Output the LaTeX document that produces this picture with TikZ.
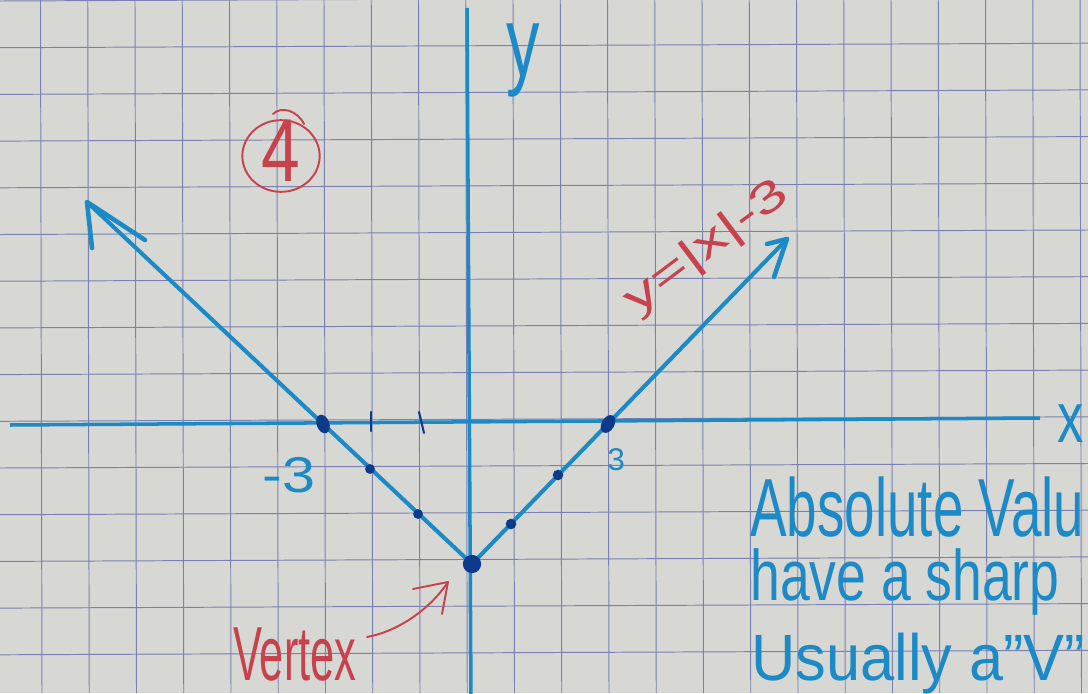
\documentclass[tikz,border=0pt]{standalone}
\usepackage{fontspec}
\setmainfont{Liberation Sans}
\usepackage{graphicx}
\definecolor{paper}{RGB}{215,215,211}
\definecolor{gridc}{RGB}{122,128,178}
\definecolor{ink}{RGB}{28,138,198}
\definecolor{navy}{RGB}{14,58,140}
\definecolor{redink}{RGB}{200,66,78}
\begin{document}
\begin{tikzpicture}[x=0.02cm,y=-0.02cm,
  gridline/.style={draw=gridc,line width=0.55pt},
  axisline/.style={draw=ink,line width=2pt},
  graphline/.style={draw=ink,line width=2.3pt,line cap=round},
  barb/.style={draw=ink,line width=2.6pt,line cap=round,line join=round},
  ticks/.style={draw=navy,line width=1.2pt,line cap=round},
  bluetext/.style={text=ink,inner sep=0pt},
  redtext/.style={text=redink,inner sep=0pt},
  redpen/.style={draw=redink,line width=1.1pt,line cap=round,line join=round},
  dotfill/.style={fill=navy}]
\useasboundingbox (0,0) rectangle (1088,693);
\clip (0,0) rectangle (1088,693);
\fill[paper] (0,0) rectangle (1088,693);
% grid paper
\foreach \k in {0,...,22} {
  \draw[gridline] ({40.5+47.25*\k},0) -- ({42+47.25*\k},693);
}
\foreach \k in {0,...,14} {
  \draw[gridline] (0,{46.7*\k+1}) -- (1088,{46.7*\k-3.5});
}
% axes
\coordinate (xl) at (10,425);
\coordinate (xr) at (1040,418);
\coordinate (yt) at (467,8);
\coordinate (yb) at (471,700);
\draw[axisline] (xl) -- (xr);
\draw[axisline] (yt) -- (yb);
\node[bluetext,anchor=base west] (xlab) at (1057,442) {\resizebox{15pt}{21.5pt}{x}};
\node[bluetext,anchor=base west] (ylab) at (506,76) {\resizebox{19pt}{30pt}{y}};
% ticks
\coordinate (t1a) at (371,412); \coordinate (t1b) at (371,431);
\coordinate (t2a) at (419,412); \coordinate (t2b) at (424,433);
\draw[ticks] (t1a) -- (t1b);
\draw[ticks] (t2a) -- (t2b);
% graph
\coordinate (V) at (472,564);
\coordinate (LT) at (87,202);
\coordinate (RT) at (787,239);
\draw[graphline] (V) -- (LT);
\draw[graphline] (V) -- (RT);
\coordinate (LTa) at (92,248); \coordinate (LTb) at (145,240);
\coordinate (RTa) at (774,277); \coordinate (RTb) at (767,244);
\draw[barb] (LTa) -- (LT) -- (LTb);
\draw[barb] (RTa) -- (RT) -- (RTb);
% points
\coordinate (Lm3) at (323,424);
\coordinate (Lm2) at (370,469);
\coordinate (Lm1) at (418,514);
\coordinate (R1) at (511,524);
\coordinate (R2) at (558,475);
\coordinate (R3) at (608,424);
\fill[dotfill] (V) circle[radius=5.2pt];
\fill[dotfill,rotate around={20:(Lm3)}] (Lm3) ellipse[x radius=3.6pt,y radius=5.5pt];
\fill[dotfill,rotate around={-30:(R3)}] (R3) ellipse[x radius=3.6pt,y radius=5.5pt];
\fill[dotfill] (Lm2) circle[radius=2.8pt];
\fill[dotfill] (Lm1) circle[radius=2.8pt];
\fill[dotfill] (R1) circle[radius=3pt];
\fill[dotfill] (R2) circle[radius=3pt];
% axis labels
\node[bluetext,anchor=base west] (m3lab) at (262,492) {\resizebox{30pt}{20pt}{-3}};
\node[bluetext,anchor=base west] (p3lab) at (607,470) {\resizebox{10pt}{12.5pt}{3}};
% circled 4
\node[redtext] (four) at (281,151) {\resizebox{22pt}{35pt}{4}};
\draw[redpen] (281,156) ellipse[x radius=22pt,y radius=20.4pt];
\draw[redpen] (273,114) .. controls (281,106) and (297,110) .. (304,124);
% equation label
\node[redtext,rotate=37] (eq) at (707,248) {\resizebox{110pt}{18pt}{y=|x|-3}};
% vertex label and arrow
\node[redtext,anchor=base west] (vlab) at (233,680) {\resizebox{70pt}{30pt}{Vertex}};
\coordinate (va) at (367,637);
\coordinate (vb) at (448,582);
\coordinate (vba) at (413,589);
\coordinate (vbb) at (442,614);
\draw[redpen] (va) .. controls (395,632) and (428,612) .. (vb);
\draw[redpen] (vba) -- (vb) -- (vbb);
% note
\node[bluetext,anchor=base west] (n1) at (750,536) {\resizebox{190pt}{34pt}{Absolute Valu}};
\node[bluetext,anchor=base west] (n2) at (750,600) {\resizebox{176pt}{29.5pt}{have a sharp}};
\node[bluetext,anchor=base west] (n3) at (751,680) {\resizebox{190pt}{27pt}{Usually a"V"}};
\end{tikzpicture}
\end{document}
